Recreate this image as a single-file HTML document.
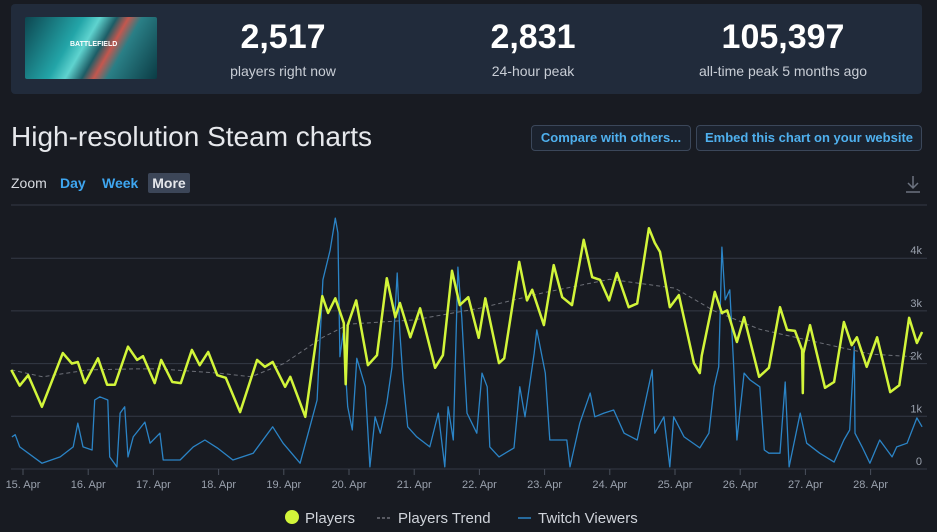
<!DOCTYPE html>
<html><head><meta charset="utf-8">
<style>
*{margin:0;padding:0;box-sizing:border-box}
body{width:937px;height:532px;background:#181b22;font-family:"Liberation Sans",sans-serif;color:#e6e8ec;position:relative;overflow:hidden}
.panel{position:absolute;left:11px;top:4px;width:911px;height:90px;background:#212b3b;border-radius:4px}
.thumb{position:absolute;left:25px;top:17px;width:132px;height:62px;background:linear-gradient(120deg,#0d4650 0%,#23a5a8 35%,#5fd3cf 45%,#1d5d66 55%,#c4574e 62%,#2a7f86 70%,#0b3b44 100%);border-radius:2px;overflow:hidden}
.thumb span{position:absolute;left:45px;top:24px;font-size:7px;font-weight:bold;color:#fff}
.stat{position:absolute;top:18px;width:240px;text-align:center}
.stat b{display:block;font-size:34px;font-weight:bold;color:#fff;line-height:38px}
.stat i{display:block;font-style:normal;font-size:14px;color:#c9ced6;margin-top:7px}
h1{position:absolute;left:11px;top:121px;font-size:28px;font-weight:normal;color:#e6e8ec}
.btn{position:absolute;top:125px;height:26px;border:1px solid #3b475a;border-radius:4px;background:#1b222e;color:#4fb0ee;font-size:13px;font-weight:bold;line-height:24px;text-align:center}
.zoom{position:absolute;top:175px;font-size:14px}
</style></head><body>
<div class="panel"></div>
<div class="thumb"><span>BATTLEFIELD</span></div>
<div class="stat" style="left:163px"><b>2,517</b><i>players right now</i></div>
<div class="stat" style="left:413px"><b>2,831</b><i>24-hour peak</i></div>
<div class="stat" style="left:663px"><b>105,397</b><i>all-time peak 5 months ago</i></div>
<h1>High-resolution Steam charts</h1>
<div class="btn" style="left:531px;width:160px">Compare with others...</div>
<div class="btn" style="left:696px;width:226px">Embed this chart on your website</div>
<div class="zoom" style="left:11px;color:#d8dbe0">Zoom</div>
<div class="zoom" style="left:60px;color:#3ea6f0;font-weight:bold">Day</div>
<div class="zoom" style="left:102px;color:#3ea6f0;font-weight:bold">Week</div>
<div class="zoom" style="left:148px;top:173px;width:42px;height:20px;line-height:20px;text-align:center;background:#3c4658;color:#e6e8ec;font-weight:bold;border-radius:2px">More</div>
<svg style="position:absolute;left:904px;top:174px" width="18" height="20"><path d="M9 2V14M4 9L9 14L14 9M2 18H16" stroke="#6c7380" stroke-width="1.5" fill="none"/></svg>
<svg id="chart" style="position:absolute;left:0;top:0" width="937" height="532"></svg>
<script>
const dayLabels=["15. Apr","16. Apr","17. Apr","18. Apr","19. Apr","20. Apr","21. Apr","22. Apr","23. Apr","24. Apr","25. Apr","26. Apr","27. Apr","28. Apr"];
const yTicks=[0,1000,2000,3000,4000];
const yTickLabels=["0","1k","2k","3k","4k"];
const playerT=[-0.18,-0.05,0.08,0.29,0.61,0.75,0.84,0.95,1.15,1.29,1.41,1.61,1.75,1.84,2.02,2.12,2.29,2.42,2.59,2.71,2.84,2.98,3.11,3.33,3.59,3.71,3.83,4.02,4.10,4.33,4.59,4.68,4.79,4.92,4.95,4.98,5.11,5.29,5.43,5.58,5.71,5.78,5.94,6.09,6.32,6.44,6.58,6.70,6.83,6.99,7.09,7.30,7.38,7.61,7.73,7.81,7.99,8.14,8.27,8.42,8.60,8.73,8.85,8.99,9.11,9.29,9.42,9.60,9.69,9.77,9.92,10.06,10.29,10.38,10.41,10.61,10.72,10.80,10.95,11.06,11.29,11.44,11.61,11.72,11.84,11.95,11.96,11.97,12.07,12.30,12.44,12.59,12.71,12.79,12.94,13.10,13.30,13.44,13.59,13.71,13.79];
const playerV=[1880,1580,1780,1180,2200,2000,2030,1630,2100,1600,1600,2320,2070,2140,1630,2070,1650,1630,2260,1970,2220,1780,1730,1080,2070,1940,2030,1560,1750,990,3280,2960,3240,2770,1610,2730,3200,1970,2160,3620,2880,3150,2500,3050,1920,2160,3760,3110,3260,2490,3240,2010,2100,3930,3200,3400,2730,3870,3260,3110,4350,3640,3590,3200,3720,3070,3140,4570,4290,4120,3070,3300,2010,1820,2150,3360,2960,3010,2410,2880,1750,1920,3070,2640,2620,2260,1440,2200,2730,1540,1650,2790,2350,2500,1940,2500,1460,1590,2870,2390,2600];
const trendT=[-0.18,0.3,1.0,1.7,2.1,3.0,3.5,4.0,4.6,5.0,6.0,7.0,8.0,9.0,10.0,10.6,11.3,12.2,13.0,13.8];
const trendV=[1880,1750,1880,1900,1900,1820,1750,2000,2500,2750,2830,3050,3350,3600,3430,3000,2650,2400,2180,2120];
const twitchT=[-0.17,-0.12,-0.05,0.29,0.57,0.77,0.84,0.92,1.06,1.10,1.18,1.30,1.33,1.44,1.49,1.56,1.61,1.69,1.87,1.95,2.10,2.15,2.41,2.61,2.79,2.98,3.22,3.53,3.83,3.99,4.25,4.40,4.51,4.60,4.71,4.79,4.83,4.86,4.91,4.98,5.05,5.12,5.25,5.32,5.40,5.48,5.58,5.66,5.74,5.78,5.83,5.90,6.04,6.24,6.37,6.47,6.52,6.60,6.67,6.73,6.81,6.96,7.04,7.12,7.16,7.30,7.53,7.62,7.70,7.84,7.88,8.01,8.08,8.34,8.39,8.54,8.70,8.77,8.91,9.06,9.22,9.42,9.65,9.69,9.83,9.92,9.98,10.14,10.38,10.52,10.60,10.67,10.72,10.77,10.84,10.90,10.95,11.06,11.15,11.30,11.37,11.44,11.61,11.69,11.75,11.92,12.02,12.22,12.44,12.59,12.68,12.75,12.76,12.87,12.99,13.14,13.33,13.40,13.56,13.71,13.79];
const twitchV=[610,650,420,110,230,420,870,420,360,1310,1370,1310,230,40,1060,1180,230,610,890,490,680,170,170,420,550,400,170,300,800,490,110,800,1310,3590,4150,4760,4480,2130,2580,1180,740,2100,1560,40,990,680,1250,1940,3720,2580,1690,800,610,420,1060,40,1180,550,3830,2870,1060,680,1820,1560,420,230,400,1560,990,2200,2640,1820,550,550,40,870,1440,990,1060,1120,680,550,1880,680,990,40,990,610,400,680,1560,1940,4210,3210,3400,1940,550,1820,1690,1560,360,300,300,1650,40,1060,490,300,130,550,740,2320,680,420,110,550,230,420,490,970,800];

const NS="http://www.w3.org/2000/svg";
const svg=document.getElementById('chart');
const X0=11,X1=922,Y0=469,PXK=52.7,DAYPX=65.2,T0X=23;
function xs(t){return T0X+t*DAYPX;}
function ys(v){return Y0-v/1000*PXK;}
function mk(tag,attrs,parent){const e=document.createElementNS(NS,tag);for(const k in attrs)e.setAttribute(k,attrs[k]);(parent||svg).appendChild(e);return e;}
const topLine=mk('line',{x1:X0,x2:X1+5,y1:205,y2:205,stroke:'#343a46','stroke-width':1});


yTicks.forEach((v,i)=>{
  const l=mk('line',{x1:X0,x2:X1+5,y1:ys(v),y2:ys(v),stroke:'#343a46','stroke-width':1});
  
  
  const t=mk('text',{x:922,y:ys(v)-4,'text-anchor':'end',fill:'#9aa1ad','font-size':11,'font-family':'Liberation Sans, sans-serif'});
  t.textContent=yTickLabels[i];
  
  
});
dayLabels.forEach((d,i)=>{
  const tk=mk('line',{x1:xs(i),x2:xs(i),y1:Y0,y2:Y0+6,stroke:'#4a505c','stroke-width':1});
  
  
  const t=mk('text',{x:xs(i),y:488,'text-anchor':'middle',fill:'#9aa1ad','font-size':11,'font-family':'Liberation Sans, sans-serif'});
  t.textContent=d;
  
  
});
function path(T,V){const n=Math.min(T.length,V.length);let s='';for(let i=0;i<n;i++){s+=(i?'L':'M')+xs(T[i]).toFixed(1)+' '+ys(V[i]).toFixed(1);}return s;}
const tw=mk('path',{d:path(twitchT,twitchV),fill:'none',stroke:'#2b84c6','stroke-width':1.3,'stroke-linejoin':'round'});


const tr=mk('path',{d:path(trendT,trendV),fill:'none',stroke:'#6d7078','stroke-width':1,'stroke-dasharray':'4 3'});


const pl=mk('path',{d:path(playerT,playerV),fill:'none',stroke:'#d2f53a','stroke-width':2.5,'stroke-linejoin':'round'});


const lg=mk('g',{});


const c=mk('circle',{cx:292,cy:517,r:7,fill:'#d2f53a'},lg);


const l1=mk('text',{x:305,y:523,fill:'#cfd3da','font-size':15,'font-family':'Liberation Sans, sans-serif'},lg);l1.textContent='Players';


const d2=mk('line',{x1:377,x2:390,y1:518,y2:518,stroke:'#6d7078','stroke-width':1.5,'stroke-dasharray':'3 2'},lg);


const l2=mk('text',{x:398,y:523,fill:'#cfd3da','font-size':15,'font-family':'Liberation Sans, sans-serif'},lg);l2.textContent='Players Trend';


const d3=mk('line',{x1:518,x2:531,y1:518,y2:518,stroke:'#2b84c6','stroke-width':1.5},lg);


const l3=mk('text',{x:538,y:523,fill:'#cfd3da','font-size':15,'font-family':'Liberation Sans, sans-serif'},lg);l3.textContent='Twitch Viewers';


</script>
</body></html>
